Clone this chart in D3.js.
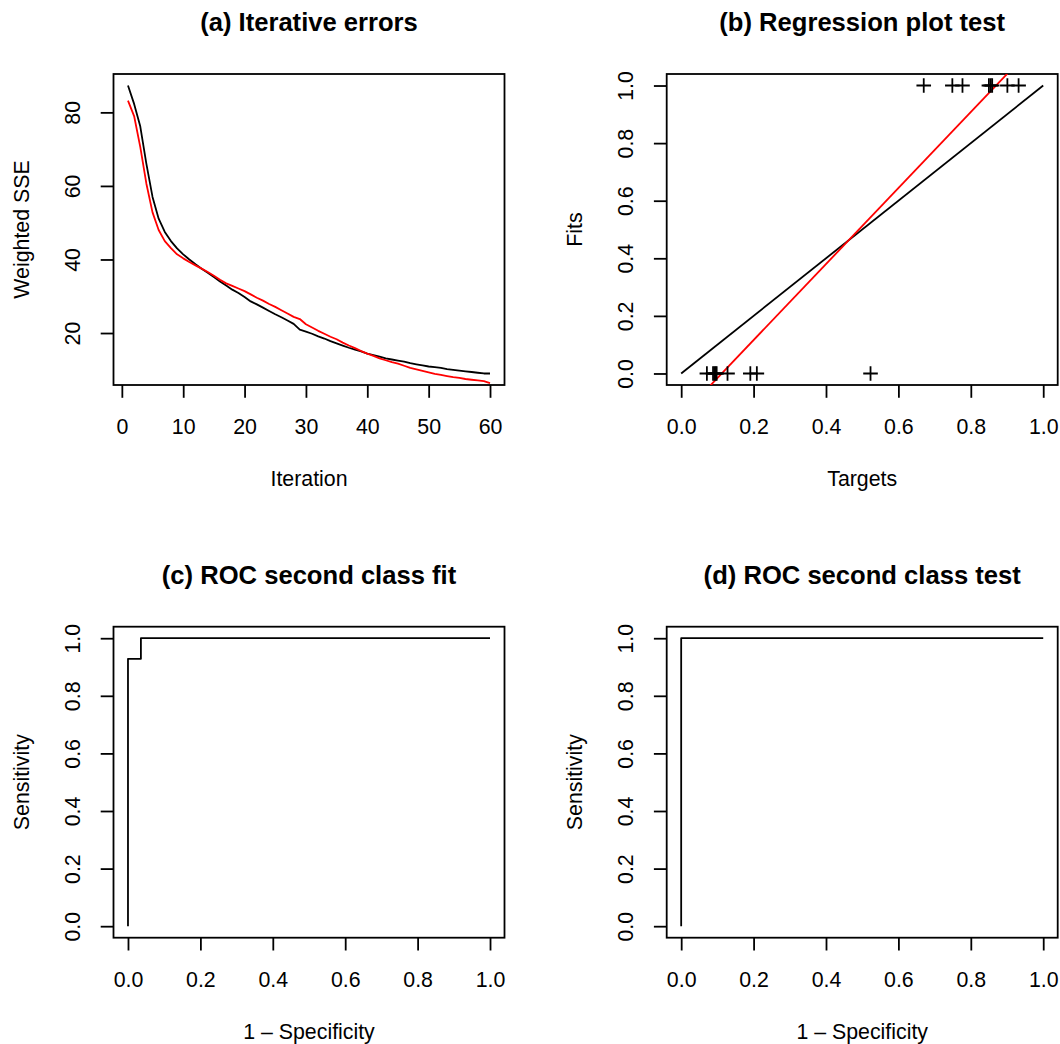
<!DOCTYPE html>
<html>
<head>
<meta charset="utf-8">
<script src="https://cdn.jsdelivr.net/npm/d3@7"></script>
<style>
  body { margin: 0; background: #fff; }
  text { font-family: "Liberation Sans", Arial, Helvetica, sans-serif; fill: #000; }
</style>
</head>
<body>
<div id="viz-container"></div>
<script>
// (a) iterative errors
const errFit = [87.3, 82.3, 76.2, 66.0, 57.0, 51.1, 47.5, 45.0, 43.0, 41.4,
  40.0, 38.7, 37.5, 36.4, 35.2, 34.0, 32.9, 31.8, 30.9, 29.8,
  28.6, 27.8, 26.9, 26.0, 25.1, 24.3, 23.4, 22.5, 20.9, 20.4,
  19.8, 19.1, 18.5, 17.8, 17.2, 16.6, 16.0, 15.5, 15.0, 14.4,
  14.0, 13.6, 13.1, 12.8, 12.5, 12.2, 11.8, 11.5, 11.2, 10.9,
  10.7, 10.5, 10.2, 10.0, 9.8, 9.6, 9.4, 9.2, 9.0, 9.0];
const errTest = [83.2, 79.0, 70.6, 60.6, 52.8, 48.0, 45.0, 43.1, 41.4, 40.3,
  39.3, 38.4, 37.5, 36.6, 35.6, 34.5, 33.5, 32.8, 32.1, 31.4,
  30.5, 29.6, 28.8, 27.9, 27.1, 26.2, 25.3, 24.4, 23.8, 22.4,
  21.5, 20.6, 19.8, 19.0, 18.3, 17.4, 16.6, 15.9, 15.1, 14.4,
  13.8, 13.1, 12.6, 12.1, 11.7, 11.1, 10.5, 10.1, 9.7, 9.3,
  8.9, 8.6, 8.3, 8.0, 7.8, 7.5, 7.3, 7.1, 6.9, 6.4];
const iterTicks = [0, 10, 20, 30, 40, 50, 60];
const sseTicks = [20, 40, 60, 80];

// (b) regression plot test
const targets = [0.071, 0.088, 0.092, 0.095, 0.098, 0.128, 0.191, 0.209, 0.523,
  0.670, 0.749, 0.777, 0.850, 0.855, 0.859, 0.901, 0.932];
const fits =    [0, 0, 0, 0, 0, 0, 0, 0, 0,
  1, 1, 1, 1, 1, 1, 1, 1];
const regIntercept = -0.148, regSlope = 1.32;

// (c) and (d) ROC curves
const rocFitX = [0, 0, 0.0357, 0.0357, 1];
const rocFitY = [0, 0.9286, 0.9286, 1, 1];
const rocTestX = [0, 0, 1];
const rocTestY = [0, 1, 1];
const unitTicks = [0, 0.2, 0.4, 0.6, 0.8, 1.0];

const width = 1060, height = 1044;
const pw = 391, ph = 311;
const cols = [113.5, 666.7], rows = [74, 626.7];
const fs = 21.33, lw = 1.8;

const svg = d3.select('#viz-container').append('svg')
  .attr('width', width).attr('height', height);

// R style 4% range extension
const pad = ext => { const r = ext[1] - ext[0]; return [ext[0] - 0.04 * r, ext[1] + 0.04 * r]; };

const panel = (col, row, xDom, yDom, xTicks, yTicks, xFmt, yFmt, title, xlab, ylab) => {
  const x0 = cols[col], y0 = rows[row];
  const x = d3.scaleLinear().domain(xDom).range([0, pw]);
  const y = d3.scaleLinear().domain(yDom).range([ph, 0]);
  const g = svg.append('g').attr('transform', 'translate(' + x0 + ',' + y0 + ')');
  const clipId = 'clip' + col + row;
  g.append('clipPath').attr('id', clipId).append('rect')
    .attr('width', pw).attr('height', ph);

  const ax = g.append('g').attr('transform', 'translate(0,' + ph + ')')
    .call(d3.axisBottom(x).tickValues(xTicks).tickFormat(xFmt).tickSize(12.8).tickSizeOuter(0));
  ax.select('.domain').remove();
  ax.selectAll('line').attr('stroke-width', lw);
  ax.selectAll('text').attr('y', 49).attr('dy', 0)
    .style('font-size', fs + 'px').style('font-family', null);

  const ay = g.append('g')
    .call(d3.axisLeft(y).tickValues(yTicks).tickFormat(yFmt).tickSize(12.8).tickSizeOuter(0));
  ay.select('.domain').remove();
  ay.selectAll('line').attr('stroke-width', lw);
  ay.selectAll('text').attr('x', null).attr('dy', 0)
    .attr('text-anchor', 'middle')
    .attr('transform', 'translate(-33.5,0) rotate(-90)')
    .style('font-size', fs + 'px').style('font-family', null);

  g.append('rect').attr('width', pw).attr('height', ph)
    .attr('fill', 'none').attr('stroke', '#000').attr('stroke-width', lw);

  g.append('text').attr('x', pw / 2).attr('y', -43)
    .attr('text-anchor', 'middle').style('font-size', '25.6px').style('font-weight', 'bold')
    .text(title);
  g.append('text').attr('x', pw / 2).attr('y', ph + 101)
    .attr('text-anchor', 'middle').style('font-size', fs + 'px').text(xlab);
  g.append('text').attr('transform', 'translate(-84.5,' + (ph / 2) + ') rotate(-90)')
    .attr('text-anchor', 'middle').style('font-size', fs + 'px').text(ylab);

  return { g: g.append('g').attr('clip-path', 'url(#' + clipId + ')'), x, y };
};

const drawLine = (p, xs, ys, color) => {
  p.g.append('path')
    .datum(xs.map((d, i) => [d, ys[i]]))
    .attr('fill', 'none').attr('stroke', color).attr('stroke-width', lw)
    .attr('stroke-linejoin', 'round')
    .attr('d', d3.line().x(d => p.x(d[0])).y(d => p.y(d[1])));
};

// (a)
const iters = errFit.map((d, i) => i + 1);
const pa = panel(0, 0, pad(d3.extent(iters)), pad(d3.extent(errFit)), iterTicks, sseTicks,
  d3.format('d'), d3.format('d'), '(a) Iterative errors', 'Iteration', 'Weighted SSE');
drawLine(pa, iters, errFit, '#000');
drawLine(pa, iters, errTest, '#ff0000');

// (b)
const f1 = d3.format('.1f');
const pb = panel(1, 0, pad([0, 1]), pad([0, 1]), unitTicks, unitTicks, f1, f1,
  '(b) Regression plot test', 'Targets', 'Fits');
drawLine(pb, [0, 1], [0, 1], '#000');
drawLine(pb, [-0.1, 1.1], [regIntercept - 0.1 * regSlope, regIntercept + 1.1 * regSlope], '#ff0000');
pb.g.selectAll('path.pt').data(targets).enter().append('path')
  .attr('class', 'pt')
  .attr('transform', (d, i) => 'translate(' + pb.x(d) + ',' + pb.y(fits[i]) + ')')
  .attr('d', 'M-7.3,0H7.3M0,-7.3V7.3')
  .attr('stroke', '#000').attr('stroke-width', lw).attr('fill', 'none');

// (c)
const pc = panel(0, 1, pad([0, 1]), pad([0, 1]), unitTicks, unitTicks, f1, f1,
  '(c) ROC second class fit', '1 \u2013 Specificity', 'Sensitivity');
drawLine(pc, rocFitX, rocFitY, '#000');

// (d)
const pd = panel(1, 1, pad([0, 1]), pad([0, 1]), unitTicks, unitTicks, f1, f1,
  '(d) ROC second class test', '1 \u2013 Specificity', 'Sensitivity');
drawLine(pd, rocTestX, rocTestY, '#000');
</script>
</body>
</html>
